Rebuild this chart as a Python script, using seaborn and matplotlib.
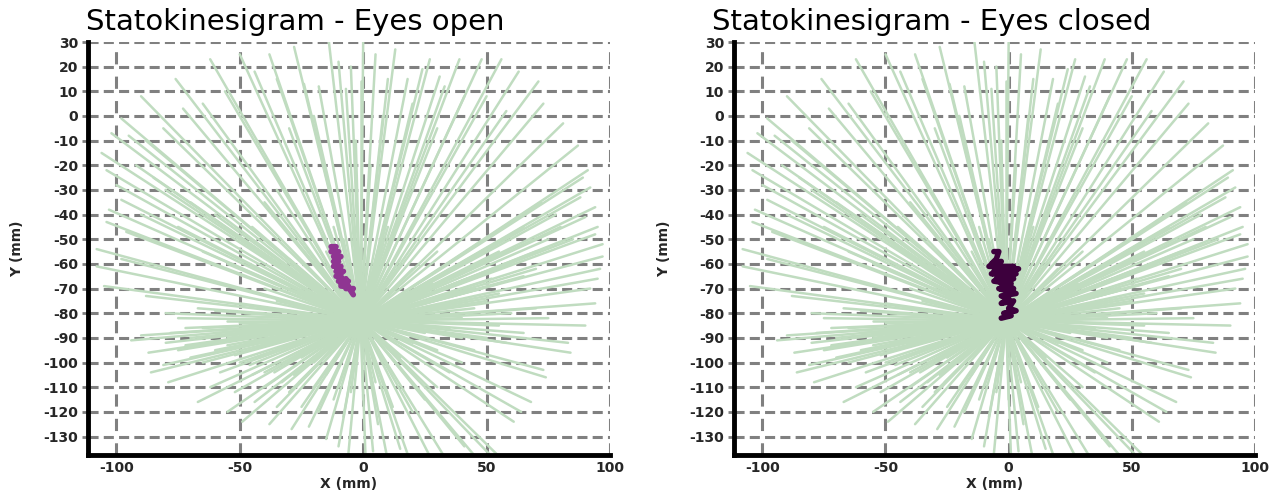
import numpy as np
import pandas as pd
import matplotlib
matplotlib.use("Agg")
import matplotlib.pyplot as plt
import seaborn as sns

# ---------------- data ----------------
titles = ["Statokinesigram - Eyes open", "Statokinesigram - Eyes closed"]
x_label = "X (mm)"
y_label = "Y (mm)"
x_ticks = [-100, -50, 0, 50, 100]
y_ticks = [30, 20, 10, 0, -10, -20, -30, -40, -50, -60, -70, -80, -90,
           -100, -110, -120, -130]

# common origin of the background rays
center_x = -1
center_y = -83
# tips of the long background rays
ray_tip_x = [90, 94, 92, 95, 96, 97, 97, 94, 95, 90, 94, 88, 92, 89, 91, 87, 81,
             73, 58, 50, 71, 63, 56, 48, 41, 39, 33, 31, 24, 27, 18, 13, 10, 0, -1,
             -7, -14, -18, -24, -28, -35, -38, -44, -50, -56, -62, -65, -73, -76,
             -81, -88, -90, -98, -102, -106, -104, -100, -98, -103, -104, -96, -108,
             -98, -108, -105, -88, -67, -55, -72, -90, -94, -72, -87, -81, -86, -79,
             -67, -55, -49, -38, -29, -22, -15, -10, -6, 1, 4, 10, 15, 19, 27, 34, 41,
             47, 51, 57, 61, 64, 68, 74, 73, 84, 83]
ray_tip_y = [-85, -76, -70, -66, -62, -57, -52, -48, -45, -41, -37, -33, -29, -25,
             -22, -12, -3, 5, 2, 8, 14, 18, 23, 23, 8, 23, 12, 16, 19, 23, 15, 27, 15,
             31, 14, 11, 31, 12, 13, 28, 15, 25, 18, 25, 10, 23, 5, 3, 15, -5, -10, 8,
             -1, -7, -15, -22, -28, -34, -38, -43, -47, -54, -58, -61, -69, -73, -78,
             -83, -86, -89, -91, -93, -96, -101, -104, -108, -116, -120, -124, -125,
             -127, -126, -131, -134, -137, -140, -136, -140, -135, -140, -138, -140,
             -134, -140, -137, -140, -124, -120, -116, -106, -103, -96, -92]
# tips of the medium rays around the dense core
short_tip_x = [-60, -50, -45, -40, -58, -65, -70, -62, -52, -44, -35, -30, -25, -48,
               -55, -75, -80, -42, -36, -28, -20, -18, -12, -8,
               -65, -60, -50, -75, -80, -45, -60, -50, -70, -78,
               60, 70, 55, 65, 75, 50, 45, 58, 40, 35, 30, 25, 20, 12, 6,
               60, 70, 75, 80, 65, 55, 50, 45, 70, 85, 78, 72, 65, 55,
               -60, -70, -80, -75, -65, -55, -85, -90, -50, -45, -40, -35, -92, -95,
               -5, 5, -10, 20, -20, -30, 30, 8, -3, 3]
short_tip_y = [-95, -100, -105, -110, -104, -100, -98, -110, -112, -116, -118, -112,
               -118, -92, -90, -95, -92, -98, -104, -105, -110, -120, -115, -122,
               -86, -88, -87, -82, -80, -80, -79, -76, -90, -88,
               -80, -78, -85, -88, -82, -90, -95, -92, -100, -104, -110, -115, -120,
               -118, -125,
               -60, -55, -50, -45, -65, -68, -63, -70, -62, -50, -40, -35, -45, -55,
               -40, -35, -30, -45, -55, -60, -25, -40, -50, -45, -35, -30, -20, -8,
               20, 25, 22, 5, 0, -5, -5, 0, -10, -20]
# tips of the short rays filling the solid core
core_tip_x = [-50, -45, -40, -35, -48, -42, -38, -30, -25, -20, -55, -52, -46, -40,
              -33, -26, -15, -10, -5, 0,
              45, 40, 35, 50, 48, 42, 38, 30, 25, 20, 15, 10, 5, 30, 40, 55, 52, 35,
              28,
              -20, -25, -30, -15, -8, 8, 15, 20, 25, -35, -40, -30, 30, 10, -12]
core_tip_y = [-84, -88, -92, -95, -80, -78, -84, -90, -98, -100, -93, -97, -101,
              -104, -108, -108, -105, -110, -112, -115,
              -78, -82, -86, -75, -70, -66, -72, -78, -88, -92, -98, -102, -108,
              -95, -90, -72, -66, -62, -68,
              -60, -65, -70, -55, -50, -52, -58, -62, -70, -75, -70, -58, -55, -45,
              -45]

# centre-of-pressure traces
open_x = [-13, -11, -13, -10, -12, -9, -12, -10, -12, -9, -11, -8, -11, -9, -10,
          -7, -9, -6, -9, -6, -7, -4, -5, -4]
open_y = [-53, -53, -55, -55, -57, -57, -59, -59, -61, -61, -63, -63, -65, -65,
          -67, -66, -68, -67, -69, -69, -70, -70, -71, -72.5]
closed_x = [-6, -4, -5, -7, -3, -8, 2, -6, 4, -7, 3, -5, 2, -6, 1, -3, 2, -4, 3,
            -3, 0, -3, 2, 0, 3, -2, 1, -3]
closed_y = [-55, -55, -58, -60, -59, -61, -61, -63, -62, -64, -64, -66, -66, -67,
            -68, -68, -70, -70, -72, -73, -74, -76, -75, -78, -79, -80, -81, -82]

GREEN = "#c0dcc0"
GRID = "#808080"
OPEN_COLOR = "#8f3592"
CLOSED_COLOR = "#3d003d"

# ---------------- build frames ----------------
all_tx = ray_tip_x + short_tip_x + core_tip_x
all_ty = ray_tip_y + short_tip_y + core_tip_y
ray_rows = []
for i, (tx, ty) in enumerate(zip(all_tx, all_ty)):
    ray_rows.append({"ray": i, "step": 0, "x": center_x, "y": center_y})
    ray_rows.append({"ray": i, "step": 1, "x": tx, "y": ty})
rays = pd.DataFrame(ray_rows)

traces = [pd.DataFrame({"x": open_x, "y": open_y}),
          pd.DataFrame({"x": closed_x, "y": closed_y})]
trace_colors = [OPEN_COLOR, CLOSED_COLOR]

# ---------------- figure ----------------
sns.set_style("white")
plt.rcParams["font.family"] = ["DejaVu Sans"]

W, H = 1272, 499
fig = plt.figure(figsize=(W / 100, H / 100), dpi=100)
ax_lefts = [88, 734]
ax_widths = [522, 521]
title_x = [86, 712]
for k in range(2):
    ax = fig.add_axes([ax_lefts[k] / W, 44 / H, ax_widths[k] / W, 413 / H])
    ax.set_axisbelow(True)
    ax.grid(False)
    ax.yaxis.grid(True, color=GRID, lw=2.2, ls=(0, (3.3, 1.7)))
    ax.xaxis.grid(True, color=GRID, lw=2.2, ls=(0, (4, 4)))
    sns.lineplot(data=rays, x="x", y="y", units="ray", estimator=None, sort=False,
                 color=GREEN, lw=1.8, ax=ax, legend=False, zorder=1)
    sns.lineplot(data=traces[k], x="x", y="y", estimator=None, sort=False,
                 color=trace_colors[k], lw=4, ax=ax, legend=False, zorder=4)
    ax.set_xlim(-111.5, 100)
    ax.set_ylim(-137.5, 30)
    ax.set_xticks(x_ticks)
    ax.set_yticks(y_ticks)
    ax.set_xticklabels([str(v) for v in x_ticks], fontsize=10, fontweight="bold")
    ax.set_yticklabels([str(v) for v in y_ticks], fontsize=10, fontweight="bold")
    for s in ["top", "right"]:
        ax.spines[s].set_visible(False)
    for s in ["left", "bottom"]:
        ax.spines[s].set_color("black")
        ax.spines[s].set_linewidth(3.5)
        ax.spines[s].set_zorder(5)
    ax.tick_params(axis="y", length=4, width=2, color=GRID, pad=3, left=True)
    ax.tick_params(axis="x", length=0, pad=4, bottom=True)
    ax.set_xlabel(x_label, fontsize=10, fontweight="bold")
    ax.set_ylabel(y_label, fontsize=10, fontweight="bold")
    ax.xaxis.label.set_va("center")
    ax.yaxis.label.set_va("center")
    ax.xaxis.set_label_coords(0.5, -0.07)
    ax.yaxis.set_label_coords(-0.135, 0.5)
    fig.text(title_x[k] / W, 1 - 30 / H, titles[k], fontsize=21,
             ha="left", va="baseline", color="black")

fig.savefig("out.png", dpi=100, facecolor="white")
